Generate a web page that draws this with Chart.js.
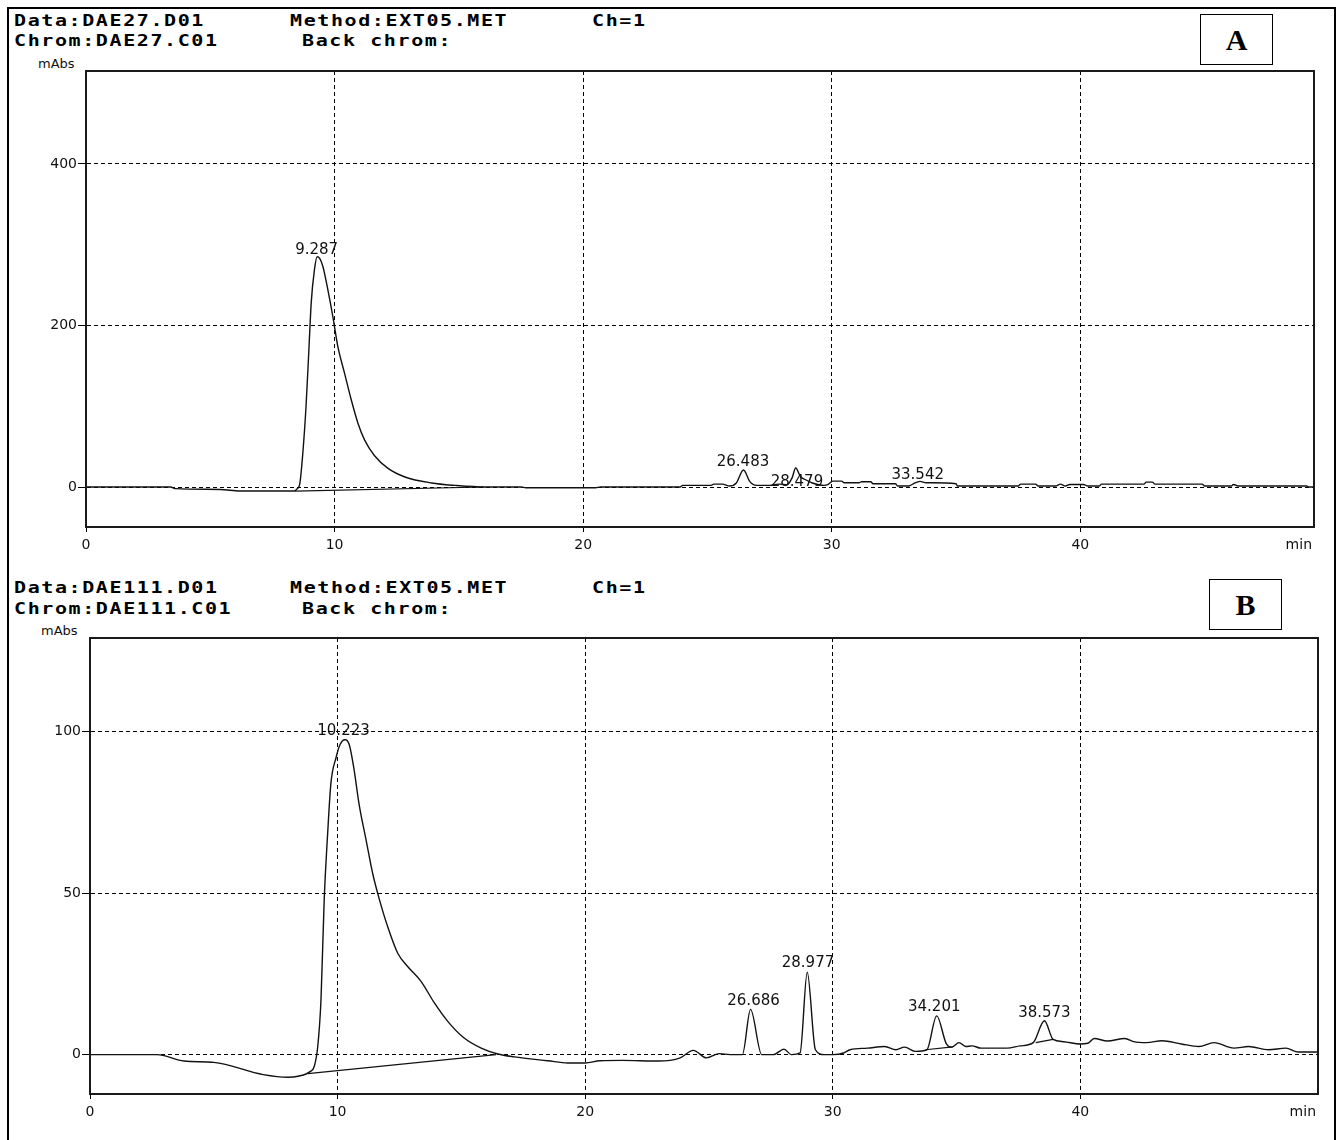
<!DOCTYPE html>
<html>
<head>
<meta charset="utf-8">
<script src="https://cdn.jsdelivr.net/npm/chart.js@4.4.1/dist/chart.umd.min.js"></script>
<style>
    html, body { margin: 0; padding: 0; background: #fff; overflow: hidden; }
    #page { position: relative; width: 1343px; height: 1140px; overflow: hidden; }
    #frame { position: absolute; left: 7px; top: 7px; width: 1329px; height: 1160px; border: 2px solid #000; box-sizing: border-box; }
    .hdr { position: absolute; font: bold 20px "DejaVu Sans Mono", monospace; letter-spacing: 1.6px; line-height: 20px;
           color: #000; white-space: pre; transform: scaleY(0.82); transform-origin: top left; }
    .unit { position: absolute; font: 13px "DejaVu Sans", sans-serif; line-height: 13px; color: #111; }
    .tag { position: absolute; width: 73px; height: 51px; border: 1px solid #000; box-sizing: border-box;
           font: bold 30px "Liberation Serif", "Times New Roman", serif; text-align: center; line-height: 49px; }
    canvas { position: absolute; left: 0; }
</style>
</head>
<body>
<div id="page">
    <div id="frame"></div>

    <div class="hdr" style="left:14px; top:12px;">Data:DAE27.D01</div>
    <div class="hdr" style="left:290px; top:12px;">Method:EXT05.MET</div>
    <div class="hdr" style="left:592px; top:12px;">Ch=1</div>
    <div class="hdr" style="left:14px; top:32px;">Chrom:DAE27.C01</div>
    <div class="hdr" style="left:302px; top:32px;">Back chrom:</div>
    <div class="unit" style="left:38px; top:57px;">mAbs</div>
    <div class="tag" style="left:1200px; top:14px;">A</div>

    <div class="hdr" style="left:14px; top:579px;">Data:DAE111.D01</div>
    <div class="hdr" style="left:290px; top:579px;">Method:EXT05.MET</div>
    <div class="hdr" style="left:592px; top:579px;">Ch=1</div>
    <div class="hdr" style="left:14px; top:600px;">Chrom:DAE111.C01</div>
    <div class="hdr" style="left:302px; top:600px;">Back chrom:</div>
    <div class="unit" style="left:41px; top:624px;">mAbs</div>
    <div class="tag" style="left:1209px; top:579px;">B</div>

    <canvas id="chartA" width="1343" height="570" style="top:0;"></canvas>
    <canvas id="chartB" width="1343" height="570" style="top:570px;"></canvas>
</div>

<script>
//#region Data
const timeTicks = [0, 10, 20, 30, 40];

// Chromatogram A (DAE27)
const timesA = [0, 3.4, 3.6, 5.4, 6.2, 8.38, 8.5, 8.6, 8.72, 8.85, 8.96, 9.06, 9.19, 9.3, 9.4, 9.53, 9.73, 9.93,
    10.13, 10.4, 10.67, 10.94, 11.21, 11.6, 12.15, 12.83, 13.9, 14.85, 16.06, 17.5, 17.7, 20.5, 20.7, 23.9,
    24.0, 25.15, 25.25, 25.6, 25.9, 26.16, 26.45, 26.7, 26.97, 27.5, 27.87, 28.2, 28.4, 28.55, 28.74, 28.95,
    29.22, 29.68, 29.86, 30.04, 30.4, 30.5, 31.1, 31.2, 31.57, 31.66, 32.56, 32.65, 33.1, 33.28, 33.55, 33.8,
    35.0, 35.06, 37.5, 37.6, 38.2, 38.3, 39.0, 39.2, 39.4, 39.58, 40.13, 40.3, 40.76, 40.85, 42.56, 42.65,
    42.9, 43.0, 44.9, 45.0, 46.07, 46.16, 46.34, 49.1, 49.2, 49.4];
const absA = [0, 0, -2, -3, -5, -5, -2, 4, 41, 99, 166, 228, 269, 285, 283, 273, 244, 211,
    174, 141, 108, 79, 58, 39, 23, 12.4, 5, 2, 0, 0, -1, -1, 0, 0,
    2, 2, 3.6, 3.6, 1.2, 5, 21, 7, 2, 2, 3.6, 2.8, 11, 23.5, 13, 9,
    5, 2, 3.2, 7.3, 7.3, 5.3, 5.3, 6.5, 6.5, 4, 4, 1.2, 1.2, 4, 7, 5.3,
    4, 1.2, 1.2, 3.6, 3.6, 1.2, 1.2, 3.6, 1.2, 3.2, 3.2, 1.2, 1.2, 3.6, 3.6, 6,
    6, 3.6, 3.6, 1.2, 1.2, 3.2, 1.2, 1.2, 0, 0];
const baseTimesA = [8.4, 16.0];
const baseValsA = [-5, 0];
const peakLabelsA = ["9.287", "26.483", "28.479", "33.542"];
const labelTimesA = [9.28, 26.43, 28.6, 33.46];
const labelValsA = [289, 25.5, 1, 10];
const yTicksA = [0, 200, 400];
const xMaxA = 49.4;
const yMinA = -49.5;
const yMaxA = 515;

// Chromatogram B (DAE111)
const timesB = [0, 2.7, 3.8, 5.0, 7.0, 8.0, 8.4, 8.9, 9.06, 9.2, 9.33, 9.46, 9.6, 9.73, 9.94, 10.1, 10.3, 10.47,
    10.65, 10.88, 11.15, 11.42, 11.69, 12.02, 12.43, 12.83, 13.37, 13.91, 14.45, 15.1, 15.8, 16.47, 17.14,
    18.49, 19.3, 20.0, 20.6, 21.5, 22.96, 23.84, 24.37, 24.9, 25.42, 25.86, 26.35, 26.68, 27.13, 27.6, 28.03,
    28.33, 28.68, 28.97, 29.3, 29.65, 30.0, 30.44, 30.7, 31.4, 32.1, 32.55, 32.9, 33.35, 33.8, 34.2, 34.58,
    34.8, 35.1, 35.37, 35.63, 35.98, 37.04, 37.57, 38.1, 38.55, 38.9, 39.33, 40.0, 40.3, 40.56, 41.09, 41.8,
    42.15, 42.68, 43.3, 44.08, 44.79, 45.4, 46.2, 46.8, 47.6, 48.3, 48.8, 49.6];
const absB = [0, 0, -2, -2.4, -6.2, -7, -6.7, -5.2, -3.6, 2.6, 17, 48, 68.6, 84, 92, 96, 97.5, 96,
    89, 77, 66.5, 56, 48, 39.7, 31.4, 27.3, 22.7, 16, 10.3, 5.2, 2, 0.2, -0.7,
    -1.9, -2.6, -2.6, -1.9, -1.8, -2, -1, 1.3, -1, 0.3, 0, 0, 14, 0, 0, 1.7,
    0, 0.5, 25.5, 1.5, 0, 0, 0.5, 1.5, 2, 2.5, 1.5, 2.3, 1, 1.5, 12, 3.5,
    2.3, 3.7, 2.5, 2.7, 2, 2, 2.7, 3.7, 10.5, 4.7, 4, 3.3, 3.5, 5, 4.2, 5,
    4, 3.7, 4.3, 3.3, 2.5, 3.7, 2, 2.5, 1.5, 2, 0.8, 0.8];
const baseTimesB = [8.8, 16.4, null, 33.75, 34.85, null, 38.2, 38.9];
const baseValsB = [-5.9, 0, null, 1.5, 2.4, null, 3.7, 4.7];
const peakLabelsB = ["10.223", "26.686", "28.977", "34.201", "38.573"];
const labelTimesB = [10.24, 26.8, 29.0, 34.1, 38.55];
const labelValsB = [99, 15.5, 27, 13.5, 11.5];
const yTicksB = [0, 50, 100];
const xMaxB = 49.6;
const yMinB = -12.2;
const yMaxB = 129;
//#endregion

//#region Helpers
function toPoints(xs, ys) {
    return xs.map((x, i) => (x === null ? { x: NaN, y: null } : { x: x, y: ys[i] }));
}

// frame around the plot, peak retention labels and the "min" unit
const chromDecor = {
    id: "chromDecor",
    afterDatasetsDraw(chart, args, opts) {
        const { ctx, chartArea: a, scales } = chart;
        ctx.save();
        ctx.strokeStyle = "#1a1a1a";
        ctx.lineWidth = 2;
        ctx.strokeRect(a.left, a.top, a.right - a.left, a.bottom - a.top);

        ctx.font = '15px "DejaVu Sans", sans-serif';
        ctx.fillStyle = "#111";
        ctx.textAlign = "center";
        ctx.textBaseline = "alphabetic";
        opts.labels.forEach((txt, i) => {
            ctx.fillText(txt, scales.x.getPixelForValue(opts.times[i]), scales.y.getPixelForValue(opts.values[i]));
        });

        ctx.font = '14px "DejaVu Sans", sans-serif';
        ctx.textAlign = "right";
        ctx.textBaseline = "top";
        ctx.fillText("min", a.right - 2, a.bottom + 11);
        ctx.restore();
    }
};

function makeChromatogram(canvasId, cfg) {
    const element = document.querySelector(canvasId);
    return new Chart(element, {
        type: "line",
        data: {
            datasets: [{
                data: toPoints(cfg.times, cfg.values),
                borderColor: "#111",
                borderWidth: 1.4,
                pointRadius: 0,
                cubicInterpolationMode: "monotone",
                fill: false
            }, {
                data: toPoints(cfg.baseTimes, cfg.baseVals),
                borderColor: "#111",
                borderWidth: 1.2,
                pointRadius: 0,
                tension: 0,
                spanGaps: false,
                fill: false
            }]
        },
        options: {
            responsive: false,
            animation: false,
            events: [],
            layout: { padding: { top: cfg.top, right: cfg.right, left: 0, bottom: 0 } },
            scales: {
                x: {
                    type: "linear",
                    min: 0,
                    max: cfg.xMax,
                    afterBuildTicks: s => { s.ticks = timeTicks.map(v => ({ value: v })); },
                    afterFit: s => { s.height = cfg.xHeight; },
                    ticks: {
                        color: "#111",
                        padding: 5,
                        maxRotation: 0,
                        font: { family: "DejaVu Sans", size: 14 }
                    },
                    grid: { color: "#000", lineWidth: 1, tickLength: 5, tickColor: "#000" },
                    border: { display: true, color: "#1a1a1a", width: 2, dash: [4, 3] }
                },
                y: {
                    type: "linear",
                    min: cfg.yMin,
                    max: cfg.yMax,
                    afterBuildTicks: s => { s.ticks = cfg.yTicks.map(v => ({ value: v })); },
                    afterFit: s => { s.width = cfg.yWidth; },
                    ticks: {
                        color: "#111",
                        padding: 1,
                        font: { family: "DejaVu Sans", size: 14 }
                    },
                    grid: { color: "#000", lineWidth: 1, tickLength: 8, tickColor: "#000" },
                    border: { display: true, color: "#1a1a1a", width: 2, dash: [4, 3] }
                }
            },
            plugins: {
                legend: { display: false },
                tooltip: { enabled: false },
                chromDecor: { labels: cfg.peakLabels, times: cfg.labelTimes, values: cfg.labelVals }
            }
        },
        plugins: [chromDecor]
    });
}
//#endregion

//#region On Document Load
window.addEventListener("DOMContentLoaded", () => {
    makeChromatogram("#chartA", {
        times: timesA, values: absA, baseTimes: baseTimesA, baseVals: baseValsA,
        peakLabels: peakLabelsA, labelTimes: labelTimesA, labelVals: labelValsA,
        yTicks: yTicksA, xMax: xMaxA, yMin: yMinA, yMax: yMaxA,
        top: 71, right: 29, yWidth: 86, xHeight: 43
    });
    makeChromatogram("#chartB", {
        times: timesB, values: absB, baseTimes: baseTimesB, baseVals: baseValsB,
        peakLabels: peakLabelsB, labelTimes: labelTimesB, labelVals: labelValsB,
        yTicks: yTicksB, xMax: xMaxB, yMin: yMinB, yMax: yMaxB,
        top: 68, right: 25, yWidth: 90, xHeight: 46
    });
});
//#endregion
</script>
</body>
</html>
